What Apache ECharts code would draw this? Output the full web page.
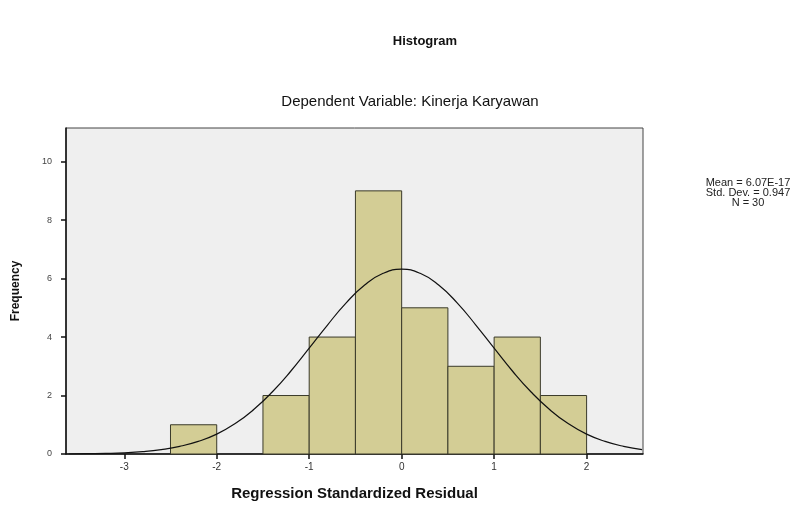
<!DOCTYPE html>
<html><head><meta charset="utf-8">
<script src="https://cdn.jsdelivr.net/npm/echarts@6/dist/echarts.min.js"></script>
<style>html,body{margin:0;padding:0;background:#fff}#c{width:806px;height:512px}</style>
</head><body><div id="c"></div>
<script>
// Histogram bins: [start, end]
var binStarts = [-2.5, -2.0, -1.5, -1.0, -0.5, 0.0, 0.5, 1.0, 1.5];
var binEnds   = [-2.0, -1.5, -1.0, -0.5, 0.0, 0.5, 1.0, 1.5, 2.0];
var counts    = [1, 0, 2, 4, 9, 5, 3, 4, 2];
// Normal curve
var curveX = [-3.6,-3.4,-3.2,-3.0,-2.8,-2.6,-2.4,-2.2,-2.0,-1.8,-1.6,-1.4,-1.2,-1.0,-0.8,-0.6,-0.4,-0.2,0.0,0.2,0.4,0.6,0.8,1.0,1.2,1.4,1.6,1.8,2.0,2.2,2.4,2.6];
var curveY = [0.00,0.01,0.02,0.04,0.08,0.15,0.26,0.43,0.68,1.04,1.52,2.12,2.83,3.62,4.42,5.17,5.78,6.18,6.32,6.18,5.78,5.17,4.42,3.62,2.83,2.12,1.52,1.04,0.68,0.43,0.26,0.15];
var xTicks = [-3, -2, -1, 0, 1, 2];
var yTicks = [0, 2, 4, 6, 8, 10];
var statsLabels = ['Mean = 6.07E-17', 'Std. Dev. = 0.947', 'N = 30'];

var histData = binStarts.map(function(s, i){ return [s, binEnds[i], counts[i]]; }).filter(function(d){return d[2] > 0;});
var curveData = curveX.map(function(x, i){ return [x, curveY[i]]; });

var chart = echarts.init(document.getElementById('c'), null, {renderer: 'canvas'});
var font = 'Liberation Sans, Arial, sans-serif';
chart.setOption({
  animation: false,
  backgroundColor: '#fff',
  title: [
    {text: 'Histogram', left: 420, top: 30, textAlign: 'center',
     textStyle: {fontFamily: font, fontSize: 13, fontWeight: 'bold', color: '#111'}},
    {text: 'Dependent Variable: Kinerja Karyawan', left: 405, top: 89, textAlign: 'center',
     textStyle: {fontFamily: font, fontSize: 15, fontWeight: 'normal', color: '#111'}}
  ],
  graphic: [
    {type: 'text', x: 748, y: 178, style: {text: statsLabels.join('\n'), fontFamily: font, fontSize: 11, lineHeight: 10, fill: '#222', align: 'center'}}
  ],
  grid: {left: 66, right: 163, top: 128, bottom: 58, show: true, backgroundColor: '#efefef', borderColor: '#444', borderWidth: 1},
  xAxis: {
    type: 'value', min: -3.63, max: 2.61,
    name: 'Regression Standardized Residual', nameLocation: 'middle', nameGap: 32,
    nameTextStyle: {fontFamily: font, fontSize: 15, fontWeight: 'bold', color: '#111'},
    axisLine: {show: true, onZero: false, lineStyle: {color: '#111', width: 1.5}},
    axisTick: {show: true, length: 5, customValues: xTicks, lineStyle: {color: '#111', width: 1.5}},
    axisLabel: {customValues: xTicks, fontFamily: font, fontSize: 10, color: '#333', margin: 8},
    splitLine: {show: false}
  },
  yAxis: {
    type: 'value', min: 0, max: 11.15,
    name: 'Frequency', nameLocation: 'middle', nameGap: 44,
    nameTextStyle: {fontFamily: font, fontSize: 12, fontWeight: 'bold', color: '#111'},
    axisLine: {show: true, onZero: false, lineStyle: {color: '#111', width: 1.5}},
    axisTick: {show: true, length: 5, customValues: yTicks, lineStyle: {color: '#111', width: 1.5}},
    axisLabel: {customValues: yTicks, fontFamily: font, fontSize: 9, color: '#444', margin: 14},
    splitLine: {show: false}
  },
  series: [
    {
      type: 'custom',
      data: histData,
      encode: {x: [0, 1], y: 2},
      renderItem: function(params, api){
        var p0 = api.coord([api.value(0), 0]);
        var p1 = api.coord([api.value(1), api.value(2)]);
        return {type: 'rect', shape: {x: p0[0], y: p1[1], width: p1[0] - p0[0], height: p0[1] - p1[1]},
          style: {fill: '#d3cd95', stroke: '#3a3a2a', lineWidth: 1}};
      },
      z: 2
    },
    {
      type: 'line', data: curveData, smooth: true, showSymbol: false,
      lineStyle: {color: '#111', width: 1.2}, z: 3, clip: true
    }
  ]
});
</script>
</body></html>
